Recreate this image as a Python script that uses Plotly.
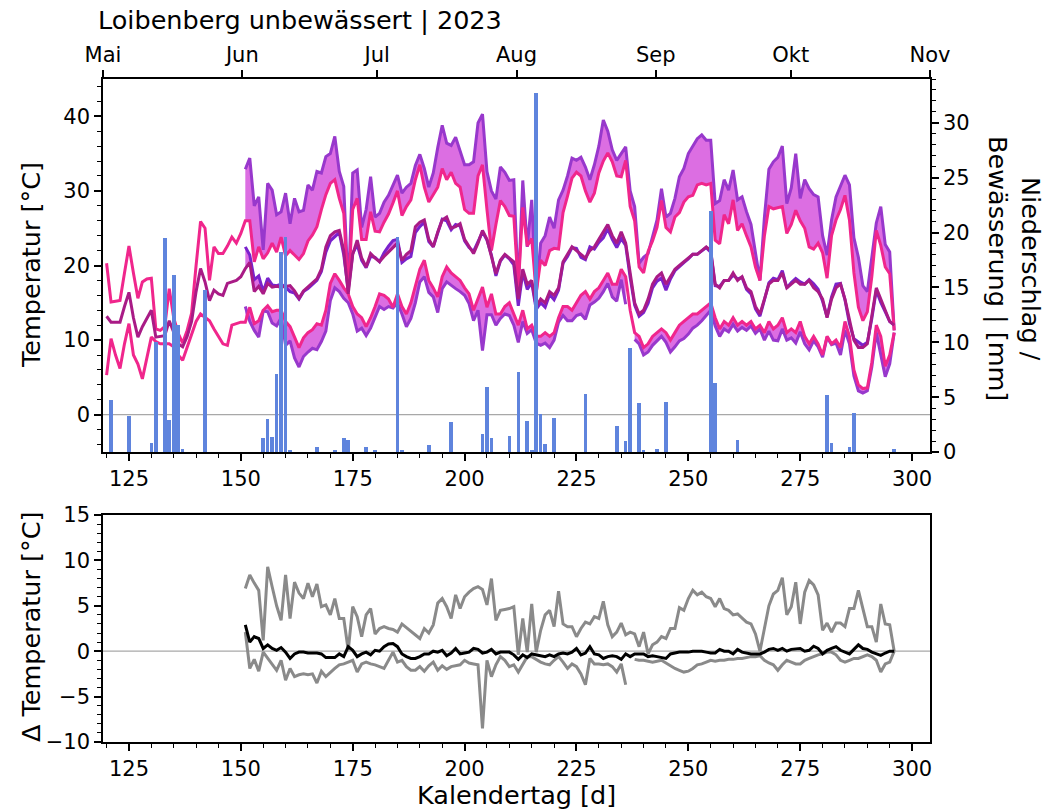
import plotly.graph_objects as go

# ---------------- data ----------------
REF_START = 120          # first day of the weather-station series
SENSOR_START = 151       # first day of the vineyard sensor series

# weather station (reference) daily temperatures [°C], days 120..296
ref_max = [
    20.3, 15.1, 15.2, 15.3, 19.0, 22.6, 19.0, 15.6, 17.8, 18.2,
    18.3, 11.5, 11.3, 11.8, 16.9, 13.0, 10.9, 9.6, 11.3, 13.6,
    20.0, 25.9, 25.0, 18.0, 22.5, 21.6, 21.6, 22.6, 23.8, 23.0,
    24.3, 26.0, 26.0, 20.5, 22.5, 20.9, 21.7, 23.0, 21.8, 23.8,
    21.3, 22.0, 21.4, 20.8, 21.6, 23.3, 24.1, 25.2, 27.5, 29.5,
    31.0, 31.5, 29.0, 27.0, 16.5, 27.5, 29.0, 23.5, 23.5, 27.2,
    24.6, 24.5, 25.8, 26.9, 28.4, 30.0, 26.7, 27.9, 28.8, 31.5,
    33.5, 30.5, 28.5, 29.5, 30.5, 33.0, 31.5, 32.5, 31.0, 30.5,
    27.5, 27.0, 27.0, 32.0, 33.5, 27.5, 22.0, 25.5, 28.7, 27.9,
    26.7, 26.6, 17.1, 27.8, 22.6, 23.6, 16.3, 20.7, 20.0, 22.0,
    22.3, 22.2, 27.1, 29.3, 31.7, 32.5, 32.0, 30.0, 28.5, 29.7,
    32.4, 34.0, 35.1, 33.9, 32.0, 31.9, 34.1, 27.9, 26.0, 19.8,
    19.0, 21.9, 23.3, 25.1, 28.7, 25.1, 24.5, 26.5, 27.1, 28.5,
    29.2, 29.4, 30.8, 31.0, 30.8, 31.0, 23.4, 22.9, 26.8, 25.6,
    28.8, 24.7, 25.6, 24.0, 22.5, 19.8, 18.0, 24.0, 27.9, 27.6,
    27.8, 27.9, 24.3, 25.5, 27.4, 26.0, 25.0, 22.5, 22.2, 23.0,
    21.7, 18.3, 24.0, 26.1, 27.5, 29.4, 26.1, 19.0, 14.4, 12.6,
    13.8, 18.5, 24.7, 22.7, 19.8, 18.9, 11.3,
]
ref_mean = [
    13.2, 12.4, 12.4, 12.4, 14.5, 16.4, 13.0, 10.4, 11.8, 12.9,
    14.0, 10.4, 10.5, 10.6, 12.6, 11.0, 9.5, 9.1, 10.5, 12.5,
    16.5, 19.6, 17.8, 15.3, 16.7, 16.2, 16.0, 17.6, 17.8, 18.0,
    18.5, 19.6, 20.4, 16.5, 17.2, 16.2, 17.6, 17.1, 17.2, 17.1,
    17.2, 17.3, 16.6, 15.6, 16.6, 17.1, 17.6, 18.2, 19.5, 22.5,
    24.0, 24.5, 24.7, 22.0, 16.2, 21.5, 23.4, 21.0, 19.8, 21.6,
    21.0, 20.5, 21.2, 21.8, 22.5, 23.0, 20.7, 21.5, 22.0, 25.2,
    25.8, 26.1, 23.5, 22.5, 24.5, 26.1, 26.5, 25.0, 25.2, 25.6,
    23.5, 22.5, 21.6, 23.0, 24.7, 23.5, 21.2, 18.9, 20.7, 21.5,
    21.0, 20.5, 15.5, 19.5, 17.5, 18.0, 14.5, 15.5, 15.0, 16.5,
    16.0, 17.0, 20.5, 21.5, 22.5, 22.0, 21.5, 21.0, 22.0, 22.5,
    23.5, 24.5, 25.5, 24.0, 23.0, 24.5, 23.0, 19.0, 15.0, 13.5,
    14.0, 15.5, 17.5, 18.5, 19.0, 17.5, 18.5, 19.5, 20.0, 20.5,
    21.0, 21.5, 21.5, 22.0, 22.5, 22.0, 17.5, 17.0, 18.0, 18.0,
    19.0, 18.0, 18.5, 17.0, 16.5, 14.5, 13.5, 15.5, 17.5, 18.0,
    18.0, 19.0, 17.0, 17.5, 18.0, 17.5, 17.5, 18.0, 17.0, 16.5,
    15.5, 13.0, 15.5, 17.0, 17.5, 15.5, 12.5, 10.0, 9.0, 9.0,
    9.5, 13.0, 17.0, 15.5, 14.0, 12.5, 12.0,
]
ref_min = [
    5.3, 10.2, 8.0, 6.2, 9.5, 12.2, 8.0, 6.8, 4.8, 7.5,
    10.4, 9.8, 9.5, 9.5, 9.5, 9.1, 8.0, 7.3, 9.1, 11.0,
    12.5, 13.5, 13.0, 12.6, 11.5, 10.5, 9.5, 9.3, 12.0, 12.2,
    12.4, 12.4, 14.4, 12.2, 12.6, 14.0, 14.6, 13.8, 14.0, 14.0,
    12.5, 11.8, 10.4, 9.0, 10.3, 11.0, 11.4, 12.2, 12.0, 14.0,
    17.6, 18.9, 18.0, 17.0, 16.2, 14.5, 13.5, 13.0, 11.8, 13.0,
    14.5, 16.2, 16.0, 15.5, 14.4, 16.2, 14.5, 13.5, 15.0, 17.1,
    19.5, 20.7, 18.0, 17.0, 15.8, 18.5, 19.8, 19.0, 18.5, 18.0,
    17.0, 16.2, 14.0, 15.5, 17.1, 14.4, 16.2, 13.5, 13.5, 14.5,
    15.0, 13.5, 12.0, 14.0, 11.5, 12.0, 10.5, 10.5, 11.0, 10.5,
    11.0, 13.0, 14.5, 14.5, 14.0, 15.0, 16.0, 16.5, 15.5, 16.5,
    17.0, 18.0, 19.0, 17.5, 17.5, 19.5, 18.5, 14.0, 11.0, 10.5,
    9.0, 9.5, 10.5, 11.0, 11.5, 11.0, 10.0, 11.0, 12.0, 12.5,
    13.0, 13.5, 13.5, 14.0, 14.5, 15.0, 13.0, 11.5, 12.5, 12.0,
    13.0, 12.0, 12.5, 12.0, 12.5, 11.5, 12.0, 11.0, 12.5, 11.5,
    12.0, 13.0, 11.0, 11.5, 11.0, 12.5, 10.5, 9.5, 10.5, 9.5,
    8.0, 10.5, 9.5, 10.0, 9.0, 12.5, 10.5, 6.0, 4.0, 3.5,
    3.6, 7.0, 12.0, 10.5, 6.5, 8.0, 11.0,
]

# sensor minus weather station [°C], days 151..296 (None = no sensor value)
delta_max = [
    6.9, 8.4, 7.5, 6.7, 1.2, 9.3, 7.1, 5.0, 3.4, 8.4,
    3.6, 7.6, 6.4, 5.8, 7.5, 6.0, 7.4, 4.9, 5.1, 4.0,
    5.8, 3.6, 3.6, 0.1, 4.9, 3.8, 1.6, 4.0, 4.7, 1.9,
    2.5, 2.7, 2.5, 2.4, 2.1, 3.0, 2.6, 2.2, 1.9, 1.4,
    2.5, 2.0, 2.9, 5.3, 5.8, 4.9, 3.6, 6.2, 4.7, 6.0,
    6.5, 6.9, 7.1, 6.8, 5.1, 8.0, 3.4, 4.5, 4.6, 4.7,
    4.9, -0.4, 3.6, -0.1, 5.2, -0.1, 2.3, 4.0, 4.5, 2.7,
    6.6, 3.0, 2.7, 2.7, 1.6, 2.5, 3.2, 3.0, 3.8, 3.6,
    5.5, 2.9, 1.6, 2.1, 3.1, 1.8, 2.1, 1.9, 0.5, 2.1,
    -0.3, 0.7, 1.0, 1.6, 1.4, 2.5, 2.5, 4.8, 4.5, 5.8,
    6.7, 6.2, 6.5, 6.0, 5.8, 4.9, 5.8, 4.7, 4.5, 4.0,
    4.1, 3.6, 3.2, 3.0, 1.9, 0.0, 2.5, 5.0, 6.3, 6.7,
    8.1, 4.0, 4.9, 7.6, 3.0, 6.5, 7.8, 7.3, 6.2, 2.3,
    3.1, 2.1, 3.1, 3.1, 2.7, 4.7, 4.7, 6.7, 4.7, 2.7,
    2.7, 1.0, 5.2, 3.0, 2.9, 0.0,
]
delta_mean = [
    2.9, 1.0, 1.6, 1.4, 0.3, 0.7, 0.3, 0.1, 0.4, -0.1,
    -0.8, -0.3, -0.1, -0.1, -0.2, -0.2, -0.2, -0.3, -0.7, -0.7,
    -0.7, -0.3, -0.6, 0.5, 0.1, -0.6, -0.3, -0.1, -0.4, 0.1,
    0.0, 0.5, 0.8, 0.85, 0.5, -0.3, -0.6, -0.8, -0.8, -0.6,
    -0.3, -0.3, 0.0, -0.1, 0.1, -0.5, -0.2, 0.3, -0.3, -0.2,
    -0.1, 0.3, 0.2, -0.2, -0.1, 0.2, -0.3, -0.1, -0.1, -0.1,
    -0.4, -0.9, -0.4, -0.7, -0.3, -0.4, -0.5, -0.6, -0.4, -0.6,
    -0.3, -0.2, -0.3, -0.1, 0.3, -0.4, -0.2, 0.5, -0.3, -0.4,
    -0.8, -0.6, -0.5, -0.6, -0.9, -0.3, -0.6, -0.3, -0.3, -0.3,
    -0.6, -0.5, -0.6, -0.7, -0.8, -0.3, -0.2, -0.1, -0.1, -0.1,
    0.0, 0.0, 0.0, -0.1, -0.2, -0.2, 0.2, 0.0, 0.0, -0.3,
    0.2, -0.1, -0.2, -0.3, -0.3, -0.3, -0.1, 0.2, 0.3, 0.1,
    0.3, 0.0, 0.2, 0.25, 0.3, 0.0, 0.1, 0.55, 0.3, -0.3,
    0.1, 0.3, 0.5, 0.1, -0.1, -0.3, 0.2, 0.7, 0.3, 0.2,
    -0.1, -0.3, -0.45, -0.2, 0.0, 0.0,
]
delta_min = [
    2.1, -1.9, -0.9, -2.2, -0.1, -0.8, -1.5, -2.1, -1.0, -3.2,
    -1.9, -2.8, -2.6, -2.5, -2.6, -2.5, -3.5, -2.2, -2.8, -2.3,
    -1.9, -1.5, -1.4, -1.2, -1.0, -2.3, -1.4, -1.2, -1.4, -1.5,
    -1.7, -1.9, -1.0, -0.1, -1.2, -1.0, -1.7, -2.1, -2.1, -1.7,
    -2.2, -1.6, -1.2, -2.1, -1.6, -2.0, -1.7, -1.6, -1.5, -1.0,
    -1.3, -1.4, -1.5, -8.5, -1.0, -2.8, -1.5, -0.6, -1.0, -1.7,
    -1.5, -2.3, -1.5, -0.6, -0.6, -0.9, -1.2, -1.4, -1.5, -1.0,
    -0.6, -1.2, -1.9, -1.4, -1.7, -2.5, -3.7, -0.8, -1.4, -1.4,
    -1.5, -1.4, -1.7, -2.3, -1.4, -3.7, None, -0.9, -1.0, -1.0,
    -1.1, -1.2, -1.1, -1.0, -1.3, -1.6, -1.9, -2.1, -2.3, -2.2,
    -1.9, -1.5, -1.4, -1.2, -1.0, -1.1, -1.0, -1.0, -0.9, -0.9,
    -0.8, -0.8, -0.7, -0.6, -0.6, -0.5, -1.0, -1.3, -1.5, -2.1,
    -1.5, -1.0, -1.2, -1.4, -1.4, -1.0, -0.8, -0.6, -0.4, -0.3,
    -0.1, -0.1, -0.4, -1.0, -1.2, -1.0, -0.8, -0.8, -0.6, -0.4,
    -0.6, -1.0, -2.3, -1.4, -1.2, 0.0,
]

# precipitation / irrigation [mm]
rain_days = [121, 125, 130, 131, 133, 134, 135, 136, 137, 142,
             155, 156, 157, 158, 159, 160, 161, 167, 171, 173,
             174, 178, 180, 185, 186, 192, 197, 204, 205, 206,
             210, 212, 214, 215, 216, 217, 218, 220, 227, 234,
             236, 237, 239, 240, 243, 245, 255, 256, 261, 281,
             282, 286, 287, 296]
rain_mm = [4.7, 3.3, 0.8, 10.0, 19.5, 2.9, 16.1, 11.6, 0.3, 14.8,
           1.3, 3.0, 1.4, 7.1, 18.2, 19.6, 0.2, 0.5, 0.2, 1.3,
           1.1, 0.5, 0.2, 19.6, 0.1, 0.6, 2.7, 1.6, 5.9, 1.3,
           1.5, 7.3, 2.8, 0.2, 32.7, 3.5, 0.7, 3.1, 5.3, 2.4,
           1.0, 9.5, 4.5, 0.2, 0.3, 4.6, 22.0, 6.3, 1.1, 5.2,
           0.8, 0.5, 3.6, 0.3]

month_days = [121, 152, 182, 213, 244, 274, 305]
month_names = ["Mai", "Jun", "Jul", "Aug", "Sep", "Okt", "Nov"]

# ---------------- derived series ----------------
ref_days = list(range(REF_START, REF_START + len(ref_max)))
sensor_days = list(range(SENSOR_START, SENSOR_START + len(delta_max)))
off = SENSOR_START - REF_START


def sensor_from(ref, delta):
    return [None if d is None else round(ref[off + i] + d, 2) for i, d in enumerate(delta)]


sens_max = sensor_from(ref_max, delta_max)
sens_mean = sensor_from(ref_mean, delta_mean)
sens_min = sensor_from(ref_min, delta_min)

# ---------------- styling ----------------
FONT = "DejaVu Sans"
PINK = "#f0268c"
PINK_MEAN = "#a91b86"
PURPLE = "#9838cc"
PURPLE_MEAN = "#7a22cc"
FILL = "#dc6ee2"
BAR = "#5f84dd"
GREY = "#8a8a8a"
LW = 3.0

W, H = 1045, 812
L, R, T, B = 103, 115, 79, 70
PW, PH = W - L - R, H - T - B


def px_x(px):
    return (px - L) / PW


def px_y(py):
    return (H - B - py) / PH


top_dom = [px_y(452), 1.0]
bot_dom = [0.0, px_y(515)]

fig = go.Figure()


def segments(days, a, b):
    seg = []
    for d, va, vb in zip(days, a, b):
        if va is None or vb is None:
            if seg:
                yield seg
            seg = []
        else:
            seg.append((d, va, vb))
    if seg:
        yield seg


# shaded difference between sensor and station
for s_arr, r_arr in [(sens_max, ref_max), (sens_min, ref_min), (sens_mean, ref_mean)]:
    for seg in segments(sensor_days, s_arr, r_arr[off:]):
        xs = [p[0] for p in seg] + [p[0] for p in seg[::-1]]
        ys = [p[1] for p in seg] + [p[2] for p in seg[::-1]]
        fig.add_trace(go.Scatter(x=xs, y=ys, fill="toself", fillcolor=FILL,
                                 line=dict(width=0), mode="lines", hoverinfo="skip",
                                 showlegend=False, xaxis="x", yaxis="y"))

# sensor lines
for arr, col in [(sens_max, PURPLE), (sens_min, PURPLE), (sens_mean, PURPLE_MEAN)]:
    fig.add_trace(go.Scatter(x=sensor_days, y=arr, mode="lines",
                             line=dict(color=col, width=LW), connectgaps=False,
                             showlegend=False, xaxis="x", yaxis="y"))

# station lines
for arr, col in [(ref_max, PINK), (ref_min, PINK), (ref_mean, PINK_MEAN)]:
    fig.add_trace(go.Scatter(x=ref_days, y=arr, mode="lines",
                             line=dict(color=col, width=LW),
                             showlegend=False, xaxis="x", yaxis="y"))

# month axis carrier
fig.add_trace(go.Scatter(x=[month_days[0], month_days[-1]], y=[None, None],
                         mode="lines", showlegend=False, xaxis="x3", yaxis="y"))

# precipitation bars on the secondary axis
fig.add_trace(go.Bar(x=rain_days, y=rain_mm, width=0.8, marker_color=BAR,
                     marker_line_width=0, showlegend=False, xaxis="x", yaxis="y2"))

# differences
fig.add_trace(go.Scatter(x=sensor_days, y=delta_max, mode="lines",
                         line=dict(color=GREY, width=LW), showlegend=False,
                         xaxis="x2", yaxis="y3"))
fig.add_trace(go.Scatter(x=sensor_days, y=delta_min, mode="lines",
                         line=dict(color=GREY, width=LW), connectgaps=False,
                         showlegend=False, xaxis="x2", yaxis="y3"))
fig.add_trace(go.Scatter(x=sensor_days, y=delta_mean, mode="lines",
                         line=dict(color="black", width=LW), showlegend=False,
                         xaxis="x2", yaxis="y3"))

TICK_SIZE = 21
LABEL_SIZE = 25.5
tickfont = dict(family=FONT, size=TICK_SIZE, color="black")
axis_common = dict(showline=True, linecolor="black", linewidth=1.6, showgrid=False,
                   zeroline=False, ticks="outside", ticklen=7, tickwidth=1.5,
                   tickcolor="black", tickfont=tickfont)


def minor(step):
    return dict(dtick=step, tick0=0, ticks="outside", ticklen=4, tickwidth=1.2, tickcolor="black")


xrange = [119.2, 304.0]

fig.update_layout(
    width=W, height=H,
    margin=dict(l=L, r=R, t=T, b=B),
    paper_bgcolor="white", plot_bgcolor="white",
    font=dict(family=FONT, color="black"),
    bargap=0,
    xaxis=dict(domain=[0, 1], anchor="y", range=xrange, tickmode="linear", tick0=0, dtick=25,
               minor=minor(5), **axis_common),
    yaxis=dict(domain=top_dom, anchor="x", range=[-5, 45], tickmode="linear", tick0=0, dtick=10,
               minor=minor(2), **axis_common),
    yaxis2=dict(overlaying="y", side="right", anchor="x", range=[0, 34], tickmode="linear",
                tick0=0, dtick=5, minor=minor(1), **axis_common),
    xaxis3=dict(overlaying="x", side="top", anchor="y", range=[month_days[0], month_days[-1]],
                tickmode="array", tickvals=month_days, ticktext=month_names, **axis_common),
    xaxis2=dict(domain=[0, 1], anchor="y3", range=xrange, tickmode="linear", tick0=0, dtick=25,
                minor=minor(5), mirror=True, **axis_common),
    yaxis3=dict(domain=bot_dom, anchor="x2", range=[-10, 15], tickmode="linear", tick0=0, dtick=5,
                minor=minor(1), mirror=True, **axis_common),
    shapes=[
        dict(type="line", xref="x domain", yref="y", x0=0, x1=1, y0=0, y1=0,
             line=dict(color="#a8a8a8", width=1.3), layer="below"),
        dict(type="line", xref="x2 domain", yref="y3", x0=0, x1=1, y0=0, y1=0,
             line=dict(color="#a8a8a8", width=1.3), layer="below"),
    ],
    annotations=[
        dict(text="Loibenberg unbewässert | 2023", xref="paper", yref="paper",
             x=px_x(96), y=px_y(20), xanchor="left", yanchor="middle", showarrow=False,
             font=dict(family=FONT, size=LABEL_SIZE, color="black")),
        dict(text="Temperatur [°C]", xref="paper", yref="paper", x=px_x(31), y=px_y(265),
             textangle=-90, xanchor="center", yanchor="middle", showarrow=False,
             font=dict(family=FONT, size=LABEL_SIZE, color="black")),
        dict(text="Δ Temperatur [°C]", xref="paper", yref="paper", x=px_x(31), y=px_y(627),
             textangle=-90, xanchor="center", yanchor="middle", showarrow=False,
             font=dict(family=FONT, size=LABEL_SIZE, color="black")),
        dict(text="Kalendertag [d]", xref="paper", yref="paper", x=px_x(516), y=px_y(795),
             xanchor="center", yanchor="middle", showarrow=False,
             font=dict(family=FONT, size=LABEL_SIZE, color="black")),
        dict(text="Niederschlag /<br>Bewässerung | [mm]", xref="paper", yref="paper",
             x=px_x(1015), y=px_y(268), textangle=90, xanchor="center", yanchor="middle",
             showarrow=False, align="center",
             font=dict(family=FONT, size=LABEL_SIZE, color="black")),
    ],
)

fig.write_html("out.html")
